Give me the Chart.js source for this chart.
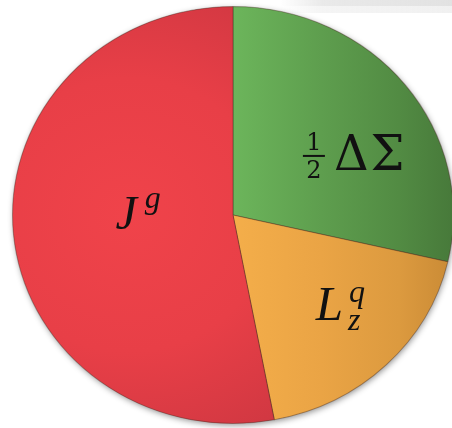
<!DOCTYPE html>
<html>
<head>
<meta charset="utf-8">
<script src="https://cdn.jsdelivr.net/npm/chart.js@4/dist/chart.umd.min.js"></script>
<style>
  html, body { margin: 0; padding: 0; background: #ffffff; }
  canvas { display: block; }
</style>
</head>
<body>
<canvas id="pie" width="452" height="428"></canvas>
<script>
// Proton spin decomposition (share of total, %)
const categories = ['½ΔΣ', 'L_z^q', 'J^g'];
const shares = [28.6, 18.4, 53.0];

// Slice shading stops (light → dark)
const shadeStops = [
  ['#6cb55b', '#5e9e4e', '#528b43', '#47793a'],   // quark spin
  ['#f4ae4a', '#eaa445', '#dc9a3f', '#c98a35'],   // quark orbital
  ['#f0434a', '#e83f47', '#d23842', '#b42d38']    // gluon
];

// Horizontal stretch of the disc (drawn as a slightly wide ellipse)
const STRETCH = 221 / 209;

function hub(chart) {
  const a = chart.chartArea;
  return { x: (a.left + a.right) / 2, y: (a.top + a.bottom) / 2, r: Math.min(a.right - a.left, a.bottom - a.top) / 2 };
}

function sliceFill(ctx) {
  const chart = ctx.chart;
  const i = ctx.dataIndex;
  if (!chart.chartArea || i === undefined) return shadeStops[i || 0][1];
  const h = hub(chart);
  const s = shadeStops[i];
  let g;
  if (i === 2) {
    // gluon slice: lit from the left, darker toward top, bottom and hub
    const gx = h.x - 105 / STRETCH;
    g = chart.ctx.createRadialGradient(gx, h.y, 0, gx, h.y, h.r * 1.45);
    g.addColorStop(0, s[0]);
    g.addColorStop(0.45, s[1]);
    g.addColorStop(0.8, s[2]);
    g.addColorStop(1, s[3]);
  } else {
    // right-hand slices: bright at the hub side, darker toward the right rim
    g = chart.ctx.createLinearGradient(h.x, 0, h.x + h.r, 0);
    g.addColorStop(0, s[0]);
    g.addColorStop(0.4, s[1]);
    g.addColorStop(0.75, s[2]);
    g.addColorStop(1, s[3]);
  }
  return g;
}

// Faint grey strip along the top-right edge
const backdrop = {
  id: 'backdrop',
  beforeDraw(chart) {
    const c = chart.ctx;
    c.save();
    const gh = c.createLinearGradient(280, 0, 452, 0);
    gh.addColorStop(0, 'rgba(228,228,228,0)');
    gh.addColorStop(0.25, 'rgba(228,228,228,0.8)');
    gh.addColorStop(1, 'rgba(226,226,226,1)');
    c.fillStyle = gh;
    c.fillRect(280, 0, 172, 6);
    c.globalAlpha = 0.5;
    c.fillRect(280, 6, 172, 7);
    c.restore();
  }
};

// Stretch the disc horizontally and give it a soft drop shadow
const ellipse = {
  id: 'ellipse',
  beforeDatasetsDraw(chart) {
    const c = chart.ctx;
    const a = chart.getDatasetMeta(0).data[0];
    c.save();
    c.translate(a.x, a.y);
    c.scale(STRETCH, 1);
    c.translate(-a.x, -a.y);
    c.save();
    c.shadowColor = 'rgba(0,0,0,0.45)';
    c.shadowBlur = 6;
    c.shadowOffsetX = 1;
    c.shadowOffsetY = 2;
    c.fillStyle = '#5a3a30';
    c.beginPath();
    c.arc(a.x, a.y, a.outerRadius - 0.5, 0, Math.PI * 2);
    c.fill();
    c.restore();
  },
  afterDatasetsDraw(chart) {
    chart.ctx.restore();
  }
};

// Math-style labels placed inside each slice
const placeTurn = [0.62, 0.45, 0.53];
const placeFrac = [0.61, 0.66, 0.43];
const SERIF = '"Liberation Serif", "Times New Roman", serif';
const UPRIGHT = '"DejaVu Serif", "Liberation Serif", serif';

function drawQuarkSpin(c, x, y) {
  c.font = '48px ' + UPRIGHT;
  const wD = c.measureText('Δ').width;
  const wS = c.measureText('Σ').width;
  const wFrac = 22;
  const total = wFrac + 9 + wD + 2 + wS;
  const x0 = x - total / 2;
  // fraction 1/2
  c.textAlign = 'center';
  c.font = '24px ' + UPRIGHT;
  c.fillText('1', x0 + wFrac / 2, y - 9);
  c.fillText('2', x0 + wFrac / 2, y + 19);
  c.fillRect(x0, y - 4, wFrac, 2);
  c.textAlign = 'left';
  c.font = '48px ' + UPRIGHT;
  c.fillText('Δ', x0 + wFrac + 9, y + 11);
  c.fillText('Σ', x0 + wFrac + 9 + wD + 2, y + 11);
}

function drawOrbital(c, x, y) {
  c.font = 'italic 49px ' + SERIF;
  const wL = c.measureText('L').width;
  c.font = 'italic 32px ' + SERIF;
  const wS = Math.max(c.measureText('q').width, c.measureText('z').width);
  const total = wL + wS + 5;
  const x0 = x - total / 2;
  c.textAlign = 'left';
  c.font = 'italic 49px ' + SERIF;
  c.fillText('L', x0, y + 12);
  c.font = 'italic 32px ' + SERIF;
  c.fillText('q', x0 + wL + 6, y - 6);
  c.fillText('z', x0 + wL + 5, y + 22);
}

function drawGluon(c, x, y) {
  c.font = 'italic 48px ' + SERIF;
  const wJ = c.measureText('J').width;
  c.font = 'italic 32px ' + SERIF;
  const wg = c.measureText('g').width;
  const x0 = x - (wJ + wg + 8) / 2;
  c.textAlign = 'left';
  c.font = 'italic 48px ' + SERIF;
  c.fillText('J', x0, y + 15);
  c.font = 'italic 32px ' + SERIF;
  c.fillText('g', x0 + wJ + 8, y - 6);
}

const drawers = [drawQuarkSpin, drawOrbital, drawGluon];

const mathLabels = {
  id: 'mathLabels',
  afterDraw(chart) {
    const c = chart.ctx;
    const meta = chart.getDatasetMeta(0);
    c.save();
    c.fillStyle = '#111111';
    c.textBaseline = 'alphabetic';
    meta.data.forEach((arc, i) => {
      const p = arc.getProps(['x', 'y', 'startAngle', 'endAngle', 'outerRadius'], true);
      const ang = p.startAngle + (p.endAngle - p.startAngle) * placeTurn[i];
      const r = p.outerRadius * placeFrac[i];
      const x = p.x + Math.cos(ang) * r * STRETCH;
      const y = p.y + Math.sin(ang) * r;
      drawers[i](c, x, y);
    });
    c.restore();
  }
};

new Chart(document.getElementById('pie'), {
  type: 'pie',
  data: {
    labels: categories,
    datasets: [{
      data: shares,
      backgroundColor: sliceFill,
      borderColor: 'rgba(70,45,35,0.4)',
      borderWidth: 1
    }]
  },
  options: {
    responsive: false,
    animation: false,
    devicePixelRatio: 1,
    layout: { padding: { left: 24, right: 10, top: 6, bottom: 4 } },
    plugins: {
      legend: { display: false },
      tooltip: { enabled: false }
    }
  },
  plugins: [backdrop, ellipse, mathLabels]
});
</script>
</body>
</html>
